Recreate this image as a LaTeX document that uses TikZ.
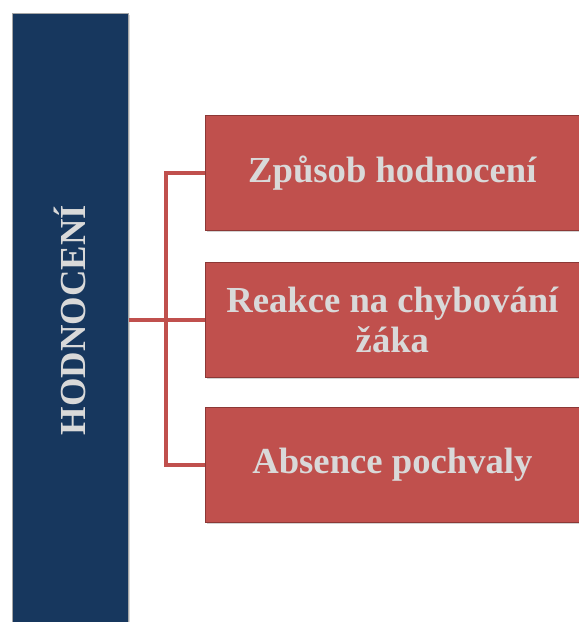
\documentclass[tikz,border=0pt]{standalone}
\usepackage{fontspec}
\setmainfont{Liberation Serif}
\usetikzlibrary{shadows}
\definecolor{navy}{HTML}{17375E}
\definecolor{brick}{HTML}{C0504D}
\definecolor{brickdark}{HTML}{8C3836}
\definecolor{txtgray}{HTML}{D9D9D9}
\tikzset{
  redbox/.style={draw=brickdark, line width=0.6pt, fill=brick, minimum width=374*0.75pt, minimum height=115*0.75pt, anchor=north west, inner sep=0pt, align=center, text=txtgray, font=\bfseries\fontsize{27.5}{30}\selectfont, drop shadow={shadow xshift=1.5pt, shadow yshift=-1.5pt, opacity=0.35}},
  bluebox/.style={draw=gray!70, line width=0.5pt, fill=navy, minimum width=116*0.75pt, minimum height=620*0.75pt, anchor=north west, inner sep=0pt, drop shadow={shadow xshift=1.5pt, shadow yshift=-1.5pt, opacity=0.3}},
  conn/.style={draw=brick, line width=3.6pt}
}
\begin{document}
\begin{tikzpicture}[x=0.75pt,y=-0.75pt]
\useasboundingbox (0,0) rectangle (579,622);
\node[bluebox] (hd) at (12,13) {};
\node[rotate=90, text=txtgray, font=\bfseries\fontsize{27.5}{30}\selectfont] (hdt) at (70,320) {HODNOCENÍ};
\coordinate (j) at (166,320);
\node[redbox] (b1) at (205,115) {Způsob hodnocení};
\node[redbox] (b2) at (205,262) {Reakce na chybování\\žáka};
\node[redbox] (b3) at (205,407) {Absence pochvaly};
\draw[conn] (hd.east |- j) -- (b2.west |- j);
\draw[conn] (b1.west) -| (j) |- (b3.west);
\end{tikzpicture}
\end{document}
